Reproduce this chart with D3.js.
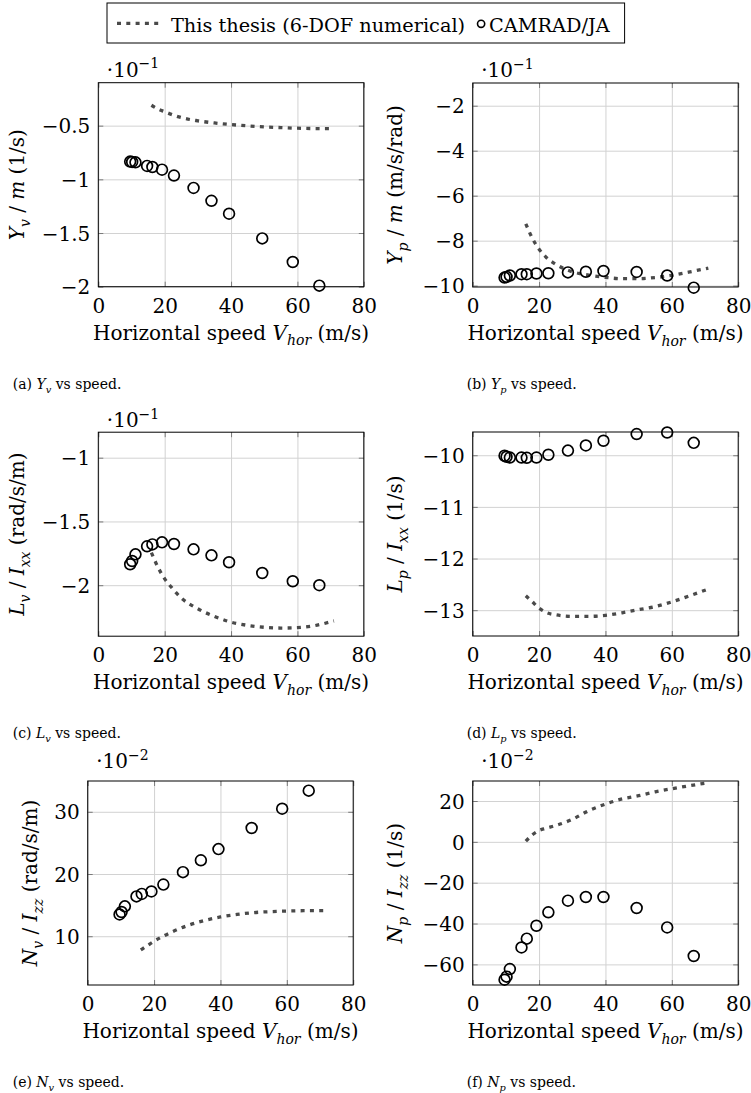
<!DOCTYPE html>
<html><head><meta charset="utf-8">
<script src="https://cdn.jsdelivr.net/npm/d3@7"></script>
<style>
html,body{margin:0;padding:0;background:#fff;}
svg{display:block;}
text{font-family:"DejaVu Serif",serif;fill:#000;white-space:pre;}
</style></head><body>
<svg id="chart" width="751" height="1093"></svg>
<script>
// ---------------- data ----------------
const speedCamrad = [9.6, 10.2, 11.2, 14.7, 16.3, 19.2, 22.8, 28.7, 34.1, 39.4, 49.4, 58.6, 66.6];
const speedThesis = [16, 18, 20, 22, 25, 30, 35, 40, 45, 50, 55, 60, 65, 71];

const YvCamrad = [-0.835, -0.838, -0.842, -0.875, -0.885, -0.91, -0.965, -1.08, -1.20, -1.32, -1.55, -1.77, -1.99];
const YvThesis = [-0.31, -0.345, -0.37, -0.395, -0.425, -0.455, -0.475, -0.49, -0.502, -0.512, -0.518, -0.524, -0.527, -0.528];

const YpCamrad = [-9.64, -9.61, -9.55, -9.49, -9.49, -9.46, -9.45, -9.41, -9.38, -9.35, -9.39, -9.55, -10.09];
const YpThesis = [-7.25, -7.9, -8.38, -8.72, -9.05, -9.38, -9.53, -9.63, -9.69, -9.69, -9.64, -9.54, -9.40, -9.22];

const LvCamrad = [-1.836, -1.81, -1.758, -1.695, -1.68, -1.664, -1.677, -1.719, -1.766, -1.82, -1.904, -1.969, -2.0];
const LvThesis = [-1.745, -1.86, -1.95, -2.015, -2.10, -2.185, -2.245, -2.29, -2.315, -2.33, -2.336, -2.333, -2.318, -2.28];

const LpCamrad = [-10.01, -10.03, -10.045, -10.045, -10.05, -10.045, -9.99, -9.91, -9.81, -9.72, -9.59, -9.56, -9.76];
const LpThesis = [-12.72, -12.84, -12.96, -13.04, -13.09, -13.12, -13.12, -13.10, -13.05, -12.99, -12.93, -12.84, -12.73, -12.59];

const NvCamrad = [13.5, 13.9, 14.8, 16.4, 16.8, 17.2, 18.3, 20.3, 22.2, 24.0, 27.4, 30.5, 33.4];
const NvThesis = [7.8, 8.5, 9.2, 9.8, 10.6, 11.7, 12.5, 13.1, 13.5, 13.8, 13.95, 14.05, 14.1, 14.1];

const NpCamrad = [-67.5, -66.0, -62.3, -51.7, -47.4, -41.1, -34.5, -28.8, -27.0, -27.0, -32.4, -41.9, -55.9];
const NpThesis = [0.3, 3.5, 5.6, 6.6, 8, 11, 15.3, 18.5, 21, 22.6, 24.5, 26, 27.4, 29];

const xTicks = [0, 20, 40, 60, 80];
const xRange = [0, 80];
const YvTicks = [-2, -1.5, -1, -0.5];   const YvRange = [-2, -0.1];
const YpTicks = [-10, -8, -6, -4, -2];  const YpRange = [-10.06, -0.99];
const LvTicks = [-2, -1.5, -1];         const LvRange = [-2.4, -0.8];
const LpTicks = [-13, -12, -11, -10];   const LpRange = [-13.5, -9.55];
const NvTicks = [10, 20, 30];           const NvRange = [2.16, 34.95];
const NpTicks = [-60, -40, -20, 0, 20]; const NpRange = [-70.1, 29.8];

const legendLabels = ["This thesis (6-DOF numerical)", "CAMRAD/JA"];

// ---------------- layout ----------------
const svg = d3.select("#chart");
const W = 265.5, H = 204;
const FS = 20;
const fmt = d => (d < 0 ? "\u2212" : "") + Math.abs(d);

function rich(sel, segs, fs) {
  let shift = 0;
  segs.forEach(s => {
    const target = s.sub ? fs * 0.28 : s.sup ? -fs * 0.42 : 0;
    sel.append("tspan").text(s.t)
      .attr("dy", target - shift)
      .style("font-size", (s.sub || s.sup ? fs * 0.7 : fs) + "px")
      .style("font-style", s.it ? "italic" : "normal");
    shift = target;
  });
}

const panels = [
  {cam: YvCamrad, th: YvThesis, ticks: YvTicks, dom: YvRange, left: 98.3, top: 82.7, labX: 24, mult: "\u22121", multGap: 6,
   ylab: [{t:"Y",it:1},{t:"v",it:1,sub:1},{t:" / "},{t:"m",it:1},{t:" (1/s)"}],
   cap: [{t:"(a) "},{t:"Y",it:1},{t:"v",it:1,sub:1},{t:" vs speed."}], capX: 12.7, capY: 389.3},
  {cam: YpCamrad, th: YpThesis, ticks: YpTicks, dom: YpRange, left: 472.7, top: 83, labX: 402, mult: "\u22121", multGap: 6,
   ylab: [{t:"Y",it:1},{t:"p",it:1,sub:1},{t:" / "},{t:"m",it:1},{t:" (m/s/rad)"}],
   cap: [{t:"(b) "},{t:"Y",it:1},{t:"p",it:1,sub:1},{t:" vs speed."}], capX: 466.7, capY: 389.3},
  {cam: LvCamrad, th: LvThesis, ticks: LvTicks, dom: LvRange, left: 98.3, top: 432.2, labX: 24, mult: "\u22121", multGap: 5,
   ylab: [{t:"L",it:1},{t:"v",it:1,sub:1},{t:" / "},{t:"I",it:1},{t:"xx",it:1,sub:1},{t:" (rad/s/m)"}],
   cap: [{t:"(c) "},{t:"L",it:1},{t:"v",it:1,sub:1},{t:" vs speed."}], capX: 12.7, capY: 738.3},
  {cam: LpCamrad, th: LpThesis, ticks: LpTicks, dom: LpRange, left: 472.7, top: 432, labX: 402, mult: null, multGap: 0,
   ylab: [{t:"L",it:1},{t:"p",it:1,sub:1},{t:" / "},{t:"I",it:1},{t:"xx",it:1,sub:1},{t:" (1/s)"}],
   cap: [{t:"(d) "},{t:"L",it:1},{t:"p",it:1,sub:1},{t:" vs speed."}], capX: 466.7, capY: 738.3},
  {cam: NvCamrad, th: NvThesis, ticks: NvTicks, dom: NvRange, left: 87.7, top: 781, labX: 37, mult: "\u22122", multGap: 13,
   ylab: [{t:"N",it:1},{t:"v",it:1,sub:1},{t:" / "},{t:"I",it:1},{t:"zz",it:1,sub:1},{t:" (rad/s/m)"}],
   cap: [{t:"(e) "},{t:"N",it:1},{t:"v",it:1,sub:1},{t:" vs speed."}], capX: 12.7, capY: 1087},
  {cam: NpCamrad, th: NpThesis, ticks: NpTicks, dom: NpRange, left: 472.7, top: 781, labX: 402, mult: "\u22122", multGap: 13,
   ylab: [{t:"N",it:1},{t:"p",it:1,sub:1},{t:" / "},{t:"I",it:1},{t:"zz",it:1,sub:1},{t:" (1/s)"}],
   cap: [{t:"(f) "},{t:"N",it:1},{t:"p",it:1,sub:1},{t:" vs speed."}], capX: 466.7, capY: 1087}
];

const defs = svg.append("defs");

panels.forEach((p, i) => {
  const g = svg.append("g").attr("transform", `translate(${p.left},${p.top})`);
  const x = d3.scaleLinear().domain(xRange).range([0, W]);
  const y = d3.scaleLinear().domain(p.dom).range([H, 0]);

  // grid
  const gx = g.append("g").attr("transform", `translate(0,${H})`)
    .call(d3.axisBottom(x).tickValues(xTicks).tickSize(-H).tickFormat(""));
  const gy = g.append("g")
    .call(d3.axisLeft(y).tickValues(p.ticks).tickSize(-W).tickFormat(""));
  [gx, gy].forEach(a => { a.select(".domain").remove(); a.selectAll("line").attr("stroke", "#d2d2d2").attr("stroke-width", 1); });

  // inner ticks on all sides
  const tl = 5;
  const tb = g.append("g").attr("transform", `translate(0,${H})`).call(d3.axisBottom(x).tickValues(xTicks).tickSize(-tl).tickFormat(""));
  const tt = g.append("g").call(d3.axisTop(x).tickValues(xTicks).tickSize(-tl).tickFormat(""));
  const tL = g.append("g").call(d3.axisLeft(y).tickValues(p.ticks).tickSize(-tl).tickFormat(""));
  const tR = g.append("g").attr("transform", `translate(${W},0)`).call(d3.axisRight(y).tickValues(p.ticks).tickSize(-tl).tickFormat(""));
  [tb, tt, tL, tR].forEach(a => { a.select(".domain").remove(); a.selectAll("line").attr("stroke", "#7a7a7a").attr("stroke-width", 1); });

  // tick labels
  const lx = g.append("g").attr("transform", `translate(0,${H})`)
    .call(d3.axisBottom(x).tickValues(xTicks).tickSize(0).tickFormat(fmt));
  lx.select(".domain").remove();
  lx.selectAll("text").attr("y", 26).attr("dy", 0)
    .style("font-family", '"DejaVu Serif",serif').style("font-size", FS + "px").attr("fill", "#000");
  const ly = g.append("g")
    .call(d3.axisLeft(y).tickValues(p.ticks).tickSize(0).tickPadding(8).tickFormat(fmt));
  ly.select(".domain").remove();
  ly.selectAll("text").attr("dy", "0.36em")
    .style("font-family", '"DejaVu Serif",serif').style("font-size", FS + "px").attr("fill", "#000");

  // clip + thesis line
  defs.append("clipPath").attr("id", "clip" + i).append("rect").attr("width", W).attr("height", H);
  const line = d3.line().x(d => x(d[0])).y(d => y(d[1])).curve(d3.curveMonotoneX);
  g.append("path")
    .datum(speedThesis.map((s, k) => [s, p.th[k]]))
    .attr("clip-path", `url(#clip${i})`)
    .attr("d", line)
    .attr("fill", "none").attr("stroke", "#4a4a4a").attr("stroke-width", 3.3)
    .attr("stroke-dasharray", "4 5.3");

  // box
  g.append("rect").attr("width", W).attr("height", H)
    .attr("fill", "none").attr("stroke", "#000").attr("stroke-width", 1);

  // CAMRAD markers
  g.selectAll("circle.cam").data(speedCamrad.map((s, k) => [s, p.cam[k]])).enter()
    .append("circle").attr("class", "cam")
    .attr("cx", d => x(d[0])).attr("cy", d => y(d[1])).attr("r", 5.4)
    .attr("fill", "none").attr("stroke", "#000").attr("stroke-width", 1.7);

  // multiplier
  if (p.mult) {
    const t = svg.append("text").attr("x", p.left + 8.5).attr("y", p.top - p.multGap);
    rich(t, [{t:"\u00b710"}, {t:p.mult, sup:1}], FS);
  }

  // y label
  const yl = svg.append("text")
    .attr("transform", `translate(${p.labX},${p.top + H / 2}) rotate(-90)`)
    .attr("text-anchor", "middle");
  rich(yl, p.ylab, FS);

  // x label
  const xl = svg.append("text").attr("x", p.left + W / 2).attr("y", p.top + H + 53)
    .attr("text-anchor", "middle");
  rich(xl, [{t:"Horizontal speed "}, {t:"V", it:1}, {t:"hor", it:1, sub:1}, {t:" (m/s)"}], FS);

  // caption
  const c = svg.append("text").attr("x", p.capX).attr("y", p.capY);
  rich(c, p.cap, 14);
});

// ---------------- legend ----------------
const LFS = 19.3;
const lg = svg.append("g");
const boxL = 107, boxT = 3, boxH = 40, midY = 23.3;
const lbox = lg.append("rect").attr("x", boxL).attr("y", boxT).attr("height", boxH)
  .attr("fill", "#fff").attr("stroke", "#000").attr("stroke-width", 1);
lg.append("line").attr("x1", boxL + 10).attr("x2", boxL + 54).attr("y1", midY).attr("y2", midY)
  .attr("stroke", "#4a4a4a").attr("stroke-width", 3.3).attr("stroke-dasharray", "4 5.3");
const t1 = lg.append("text").attr("x", boxL + 64).attr("y", 31.5).style("font-size", LFS + "px").text(legendLabels[0]);
const t1End = boxL + 64 + t1.node().getComputedTextLength();
lg.append("circle").attr("cx", t1End + 16).attr("cy", midY + 0.5).attr("r", 3.6)
  .attr("fill", "none").attr("stroke", "#000").attr("stroke-width", 1.6);
const t2 = lg.append("text").attr("x", t1End + 24).attr("y", 31.5).style("font-size", LFS + "px").text(legendLabels[1]);
const t2End = t1End + 24 + t2.node().getComputedTextLength();
lbox.attr("width", t2End + 15 - boxL);
</script>
</body></html>
